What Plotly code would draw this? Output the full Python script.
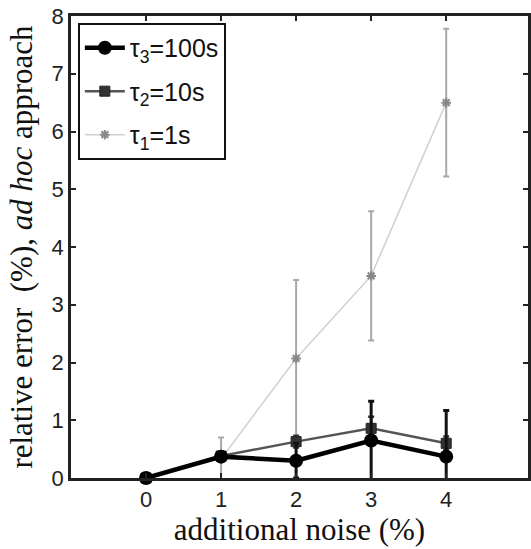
import plotly.graph_objects as go

noise = [0, 1, 2, 3, 4]
tau1_vals = [0.0, 0.33, 2.07, 3.5, 6.5]
tau1_err = [0.0, 0.37, 1.36, 1.12, 1.28]
tau2_vals = [0.0, 0.38, 0.63, 0.86, 0.6]
tau2_err = [0.0, 0.08, 0.1, 0.2, 0.12]
tau3_vals = [0.0, 0.37, 0.3, 0.65, 0.37]
tau3_err = [0.0, 0.06, 0.3, 0.68, 0.8]

names = ["τ<sub>3</sub>=100s", "τ<sub>2</sub>=10s", "τ<sub>1</sub>=1s"]

fig = go.Figure()
fig.add_trace(go.Scatter(
    x=noise, y=tau1_vals, name=names[2], mode="lines+markers",
    line=dict(color="#d0d0d0", width=1.5),
    marker=dict(symbol="asterisk-open", size=8, color="#888", line=dict(color="#888", width=2)),
    error_y=dict(type="data", array=tau1_err, color="#a8a8a8", thickness=2, width=3),
    cliponaxis=False, legendrank=3, legendgroup="t1",
))
fig.add_trace(go.Scatter(
    x=noise, y=tau2_vals, name=names[1], mode="lines+markers",
    line=dict(color="#555", width=2.5),
    marker=dict(symbol="square", size=10, color="#333", line=dict(color="#222", width=1)),
    error_y=dict(type="data", array=tau2_err, color="#333", thickness=2.5, width=3),
    cliponaxis=False, legendrank=2, legendgroup="t2",
))
fig.add_trace(go.Scatter(
    x=noise, y=tau3_vals, name=names[0], mode="lines+markers",
    line=dict(color="#000", width=4.5),
    marker=dict(symbol="circle", size=14, color="#000"),
    error_y=dict(type="data", array=tau3_err, color="#111", thickness=3, width=3),
    cliponaxis=False, legendrank=1, legendgroup="t3",
))

axis_font = dict(family="Arial, Liberation Sans, sans-serif", size=22, color="#222")
title_font = dict(family="Liberation Serif, Times New Roman, serif", size=31, color="#111")

fig.update_layout(
    width=531, height=549,
    margin=dict(l=71, r=0, t=16, b=71),
    plot_bgcolor="white", paper_bgcolor="white",
    showlegend=True,
    legend=dict(
        x=0.015, y=0.985, xanchor="left", yanchor="top",
        bgcolor="white", bordercolor="#111", borderwidth=2,
        font=dict(family="Arial, Liberation Sans, sans-serif", size=25, color="#111"),
        traceorder="grouped", itemwidth=40, tracegroupgap=8,
    ),
    xaxis=dict(
        range=[-1, 5.09], tickvals=noise, ticktext=[str(v) for v in noise],
        showgrid=False, zeroline=False, showline=True, linecolor="#222", linewidth=2.5,
        mirror="ticks", ticks="inside", ticklen=5, tickcolor="#222", tickwidth=2,
        tickfont=axis_font,
        title=dict(text="additional noise (%)", font=title_font, standoff=0),
    ),
    yaxis=dict(
        range=[0, 8], tickvals=[0, 1, 2, 3, 4, 5, 6, 7, 8],
        showgrid=False, zeroline=False, showline=True, linecolor="#222", linewidth=2.5,
        mirror="ticks", ticks="inside", ticklen=5, tickcolor="#222", tickwidth=2,
        tickfont=axis_font,
        title=dict(text="relative error  (%), <i>ad hoc</i> approach", font=title_font, standoff=10),
    ),
)

fig.write_html("out.html")
